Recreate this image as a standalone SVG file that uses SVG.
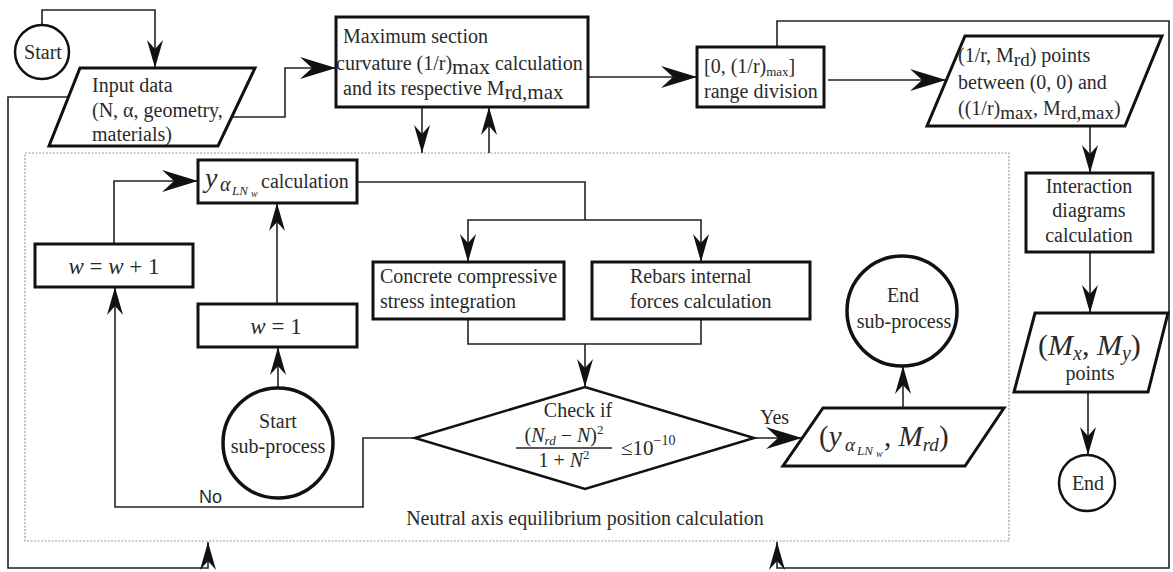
<svg xmlns="http://www.w3.org/2000/svg" width="1173" height="572" viewBox="0 0 1173 572">
<style>
.t{font-family:"Liberation Serif",serif;font-size:20px;fill:#2a2a2a}
.m{font-family:"Liberation Serif",serif;font-style:italic;fill:#2a2a2a}
.u{font-family:"Liberation Serif",serif;fill:#2a2a2a}
.s{font-family:"Liberation Sans",sans-serif;font-size:18px;fill:#2a2a2a}
.c{text-anchor:middle}
.box{fill:#fff;stroke:#111;stroke-width:3}
.circ{fill:#fff;stroke:#111;stroke-width:3.5}
.ln{fill:none;stroke:#222;stroke-width:1.6}
.dot{fill:none;stroke:#9a9a9a;stroke-width:1.2;stroke-dasharray:2 1.5}
</style>
<defs>
<marker id="ah" viewBox="-30 -10 32 20" refX="0" refY="0" markerWidth="32" markerHeight="20" markerUnits="userSpaceOnUse" orient="auto">
<path d="M0,0 L-28,-8 L-19,0 L-28,8 Z" fill="#111"/>
</marker>
<marker id="ahL" viewBox="-38 -12 40 24" refX="0" refY="0" markerWidth="40" markerHeight="24" markerUnits="userSpaceOnUse" orient="auto">
<path d="M0,0 L-36,-11 L-24,0 L-36,11 Z" fill="#111"/>
</marker>
</defs>
<rect width="1173" height="572" fill="#fff"/>

<g id="subprocess-frame">
<rect class="dot" x="25" y="153" width="984" height="388"/>
<text class="t c" x="585" y="525">Neutral axis equilibrium position calculation</text>
</g>

<g id="connectors">
<path class="ln" d="M42,25 V10 H155 V68" marker-end="url(#ah)"/>
<path class="ln" d="M232,117 H285 V68 H336" marker-end="url(#ahL)"/>
<path class="ln" d="M422,107 V153" marker-end="url(#ah)"/>
<path class="ln" d="M489,153 V107" marker-end="url(#ah)"/>
<path class="ln" d="M588,77 H697" marker-end="url(#ahL)"/>
<path class="ln" d="M828,80 H946" marker-end="url(#ahL)"/>
<path class="ln" d="M1090,126 V173" marker-end="url(#ah)"/>
<path class="ln" d="M1090,252 V313" marker-end="url(#ah)"/>
<path class="ln" d="M1088,392 V455" marker-end="url(#ah)"/>
<path class="ln" d="M68,97 H8 V568 H208 V542" marker-end="url(#ah)"/>
<path class="ln" d="M777,47 V21 H1169 V568 H777 V542" marker-end="url(#ah)"/>
<path class="ln" d="M114,244 V181 H198" marker-end="url(#ahL)"/>
<path class="ln" d="M277,304 V203" marker-end="url(#ah)"/>
<path class="ln" d="M278,388 V347" marker-end="url(#ah)"/>
<path class="ln" d="M357,182 H585 V220"/>
<path class="ln" d="M585,220 H468 V262" marker-end="url(#ah)"/>
<path class="ln" d="M585,220 H701 V262" marker-end="url(#ah)"/>
<path class="ln" d="M468,319 V344 H701 V319"/>
<path class="ln" d="M585,344 V387" marker-end="url(#ah)"/>
<path class="ln" d="M415,438 H363 V507 H115 V287" marker-end="url(#ah)"/>
<path class="ln" d="M754,438 H802" marker-end="url(#ahL)"/>
<path class="ln" d="M903,408 V366" marker-end="url(#ah)"/>
<text class="s" x="199" y="503">No</text>
<text class="t" x="760" y="424" font-size="18">Yes</text>
</g>

<g id="start">
<circle cx="42" cy="52" r="27" fill="#fff" stroke="#111" stroke-width="2.5"/>
<text class="t c" x="43" y="59">Start</text>
</g>

<g id="input-data">
<polygon class="box" points="80,68 255,68 218,146 49,146"/>
<text class="t" x="92" y="92">Input data</text>
<text class="t" x="92" y="117">(N, α, geometry,</text>
<text class="t" x="92" y="141">materials)</text>
</g>

<g id="max-curvature">
<rect class="box" x="336" y="17" width="252" height="90"/>
<text class="t" x="343" y="43">Maximum section</text>
<text class="t" x="336" y="70">curvature (1/r)<tspan font-size="22" dy="4">max</tspan><tspan dy="-4"> calculation</tspan></text>
<text class="t" x="343" y="95">and its respective M<tspan font-size="21" dy="4">rd,max</tspan></text>
</g>

<g id="range-division">
<rect class="box" x="697" y="47" width="127" height="60"/>
<text class="t" x="704" y="73">[0, (1/r)<tspan font-size="13" dy="3">max</tspan><tspan dy="-3">]</tspan></text>
<text class="t" x="704" y="98">range division</text>
</g>

<g id="points-1r-mrd">
<polygon class="box" points="965,36 1162,36 1125,126 927,126"/>
<text class="t" x="958" y="62">(1/r, M<tspan font-size="19" dy="4">rd</tspan><tspan dy="-4">) points</tspan></text>
<text class="t" x="958" y="89">between (0, 0) and</text>
<text class="t" x="958" y="115">((1/r)<tspan font-size="19" dy="4">max</tspan><tspan dy="-4">, M</tspan><tspan font-size="19" dy="4">rd,max</tspan><tspan dy="-4">)</tspan></text>
</g>

<g id="interaction">
<rect class="box" x="1026" y="173" width="127" height="79"/>
<text class="t c" x="1089" y="193">Interaction</text>
<text class="t c" x="1089" y="217">diagrams</text>
<text class="t c" x="1089" y="242">calculation</text>
</g>

<g id="mx-my">
<polygon class="box" points="1035,313 1168,313 1148,392 1014,392"/>
<text class="u" x="1038" y="355" font-size="30">(<tspan class="m">M</tspan><tspan class="m" font-size="20" dy="5">x</tspan><tspan dy="-5">, </tspan><tspan class="m">M</tspan><tspan class="m" font-size="20" dy="5">y</tspan><tspan dy="-5">)</tspan></text>
<text class="t c" x="1090" y="380">points</text>
</g>

<g id="end">
<circle cx="1087" cy="483" r="28" fill="#fff" stroke="#111" stroke-width="2.5"/>
<text class="t c" x="1088" y="490">End</text>
</g>

<g id="y-calc">
<rect class="box" x="198" y="160" width="159" height="43"/>
<text class="m" x="205" y="187" font-size="28">y</text>
<text class="m" x="220" y="191" font-size="20">α</text>
<text class="m" x="232" y="195" font-size="13">LN</text>
<text class="m" x="251" y="197" font-size="10">w</text>
<text class="t" x="261" y="188">calculation</text>
</g>

<g id="w-inc">
<rect class="box" x="35" y="244" width="158" height="43"/>
<text class="u c" x="114" y="274" font-size="23"><tspan class="m">w</tspan> = <tspan class="m">w</tspan> + 1</text>
</g>

<g id="w-one">
<rect class="box" x="198" y="304" width="159" height="43"/>
<text class="u c" x="276" y="334" font-size="23"><tspan class="m">w</tspan> = 1</text>
</g>

<g id="start-sub">
<circle class="circ" cx="278" cy="443" r="55"/>
<text class="t c" x="278" y="428">Start</text>
<text class="t c" x="278" y="453">sub-process</text>
</g>

<g id="concrete">
<rect class="box" x="373" y="262" width="191" height="57"/>
<text class="t" x="380" y="283">Concrete compressive</text>
<text class="t" x="380" y="308">stress integration</text>
</g>

<g id="rebars">
<rect class="box" x="592" y="262" width="218" height="57"/>
<text class="t" x="630" y="283">Rebars internal</text>
<text class="t" x="630" y="308">forces calculation</text>
</g>

<g id="check">
<polygon fill="#fff" stroke="#111" stroke-width="2.5" points="415,438 585,387 754,438 585,489"/>
<text class="t c" x="578" y="417">Check if</text>
<text class="u c" x="564" y="442" font-size="20">(<tspan class="m">N</tspan><tspan class="m" font-size="13" dy="3">rd</tspan><tspan dy="-3"> − </tspan><tspan class="m">N</tspan>)<tspan font-size="13" dy="-8">2</tspan></text>
<line x1="516" y1="448" x2="612" y2="448" stroke="#222" stroke-width="1.3"/>
<text class="u c" x="564" y="467" font-size="20">1 + <tspan class="m">N</tspan><tspan font-size="13" dy="-8">2</tspan></text>
<text class="u" x="621" y="455" font-size="21">≤10<tspan font-size="14" dy="-10">−10</tspan></text>
</g>

<g id="result">
<polygon class="box" points="823,408 1004,408 965,466 783,466"/>
<text class="u" x="819" y="446" font-size="29">(<tspan class="m">y</tspan></text>
<text class="m" x="845" y="451" font-size="19">α</text>
<text class="m" x="857" y="455" font-size="13">LN</text>
<text class="m" x="876" y="457" font-size="10">w</text>
<text class="u" x="884" y="446" font-size="29">, <tspan class="m">M</tspan><tspan class="m" font-size="19" dy="5">rd</tspan><tspan dy="-5">)</tspan></text>
</g>

<g id="end-sub">
<circle class="circ" cx="902" cy="311" r="55"/>
<text class="t c" x="903" y="302">End</text>
<text class="t c" x="904" y="328">sub-process</text>
</g>
</svg>
